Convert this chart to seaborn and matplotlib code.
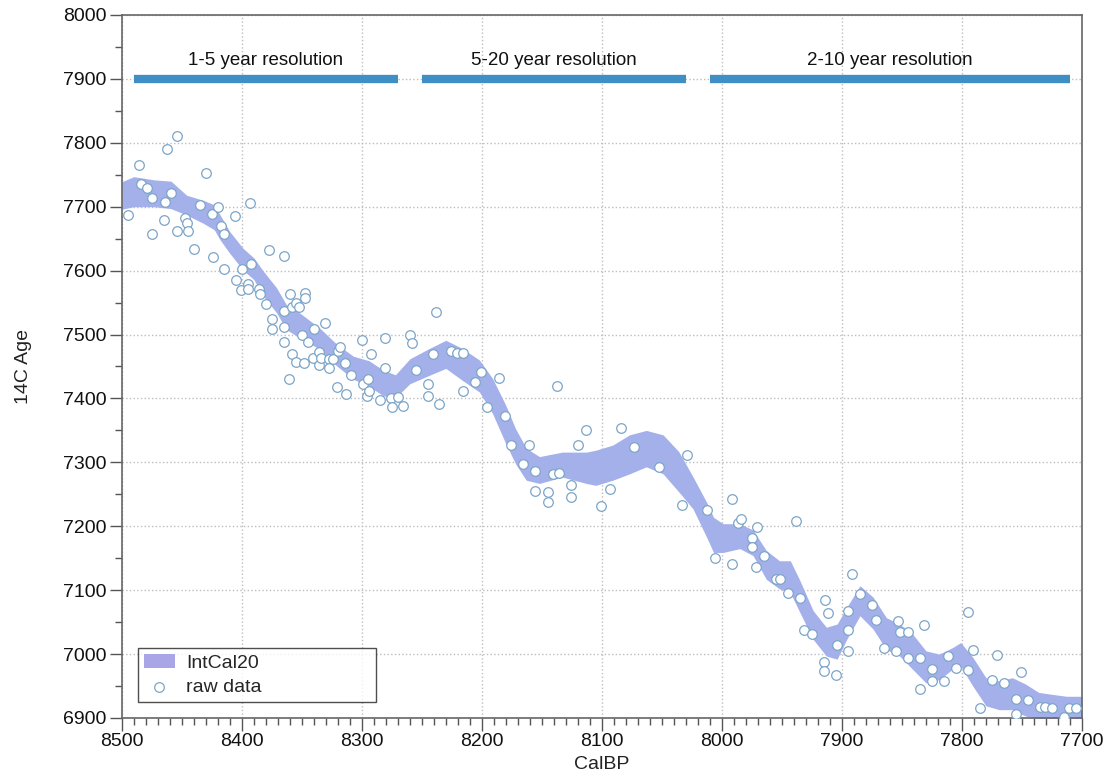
import numpy as np
import pandas as pd
import matplotlib
matplotlib.use("Agg")
import matplotlib.pyplot as plt
from matplotlib.ticker import MultipleLocator
import seaborn as sns

# IntCal20 band: calendar age, lower and upper 14C age
band_calbp = [8500, 8490, 8473, 8459, 8446, 8432, 8423, 8418, 8410, 8399,
              8390, 8382, 8371, 8363, 8352, 8335, 8321, 8307, 8294, 8282,
              8272, 8260, 8244, 8230, 8216, 8202, 8191, 8180, 8172, 8163,
              8152, 8133, 8113, 8105, 8091, 8077, 8063, 8049, 8036, 8024,
              8012, 8007, 7999, 7985, 7974, 7963, 7952, 7943, 7935, 7924,
              7913, 7904, 7896, 7885, 7874, 7863, 7852, 7841, 7830, 7819,
              7808, 7801, 7791, 7780, 7769, 7758, 7747, 7736, 7725, 7713, 7700]
band_lower = [7696, 7700, 7700, 7697, 7687, 7674, 7664, 7648, 7627, 7601,
              7586, 7560, 7534, 7508, 7495, 7477, 7451, 7430, 7419, 7404,
              7401, 7423, 7436, 7447, 7428, 7410, 7376, 7329, 7298, 7272,
              7267, 7277, 7267, 7264, 7272, 7282, 7293, 7282, 7254, 7227,
              7180, 7159, 7159, 7165, 7154, 7117, 7102, 7096, 7065, 7023,
              6997, 6992, 7023, 7060, 7039, 7007, 6997, 6976, 6955, 6960,
              6976, 6981, 6950, 6919, 6913, 6913, 6903, 6898, 6898, 6895, 6895]
band_upper = [7739, 7747, 7742, 7740, 7718, 7710, 7703, 7687, 7661, 7635,
              7620, 7599, 7573, 7547, 7534, 7510, 7485, 7466, 7459, 7444,
              7437, 7462, 7478, 7491, 7478, 7460, 7431, 7389, 7353, 7322,
              7309, 7316, 7316, 7319, 7327, 7343, 7350, 7343, 7317, 7277,
              7235, 7214, 7204, 7204, 7194, 7162, 7146, 7146, 7115, 7068,
              7042, 7047, 7073, 7107, 7089, 7057, 7047, 7031, 7005, 7000,
              7010, 7018, 6995, 6963, 6958, 6963, 6953, 6940, 6937, 6934, 6934]

raw_calbp = [8495, 8486, 8484, 8479, 8475, 8475, 8465, 8464, 8462, 8459,
             8454, 8454, 8447, 8446, 8445, 8440, 8435, 8430, 8425, 8420,
             8417, 8415, 8424, 8415, 8406, 8393, 8405, 8401, 8400, 8395,
             8395, 8392, 8386, 8385, 8380, 8377, 8375, 8375, 8365, 8365,
             8365, 8365, 8361, 8360, 8358, 8355, 8352, 8347, 8347, 8358,
             8355, 8350, 8348, 8345, 8341, 8340, 8336, 8336, 8334, 8331,
             8327, 8327, 8324, 8320, 8318, 8321, 8314, 8313, 8309, 8300,
             8299, 8296, 8295, 8294, 8292, 8285, 8281, 8281, 8276, 8275,
             8270, 8266, 8260, 8258, 8255,
             8238, 8245, 8245, 8241, 8236, 8226, 8221, 8216, 8216, 8206,
             8201, 8196, 8186, 8181, 8176, 8166, 8161, 8156, 8156, 8145,
             8145, 8141, 8136, 8137, 8126, 8126, 8120, 8113, 8101, 8093,
             8084, 8073, 8052, 8033, 8029, 8012,
             8006, 7992, 7992, 7987, 7984, 7971, 7975, 7975, 7972, 7965,
             7955, 7952, 7938, 7945, 7935, 7932, 7925, 7914, 7912, 7915,
             7915, 7904, 7905, 7895, 7895, 7895, 7892, 7885, 7875, 7872,
             7865, 7855, 7853, 7852, 7845, 7845, 7835, 7835, 7832, 7825,
             7825, 7815, 7812, 7805, 7795, 7795, 7791, 7785, 7775, 7771,
             7765, 7755, 7755, 7751, 7745, 7735, 7731, 7725, 7715, 7711, 7705]
raw_age = [7687, 7766, 7736, 7730, 7714, 7658, 7679, 7708, 7790, 7722,
           7810, 7662, 7683, 7674, 7662, 7634, 7702, 7752, 7688, 7700,
           7670, 7657, 7621, 7603, 7686, 7706, 7585, 7569, 7603, 7579,
           7571, 7611, 7571, 7564, 7548, 7632, 7524, 7508, 7623, 7488,
           7537, 7511, 7431, 7563, 7543, 7549, 7543, 7565, 7557, 7470,
           7457, 7499, 7455, 7488, 7464, 7509, 7452, 7473, 7464, 7518,
           7461, 7447, 7461, 7474, 7481, 7418, 7455, 7407, 7436, 7491,
           7423, 7404, 7431, 7411, 7470, 7397, 7494, 7447, 7400, 7387,
           7403, 7388, 7499, 7486, 7444,
           7536, 7422, 7404, 7469, 7391, 7474, 7471, 7471, 7411, 7426,
           7441, 7387, 7432, 7373, 7327, 7297, 7327, 7287, 7255, 7253,
           7238, 7281, 7284, 7420, 7265, 7246, 7327, 7350, 7232, 7258,
           7353, 7324, 7293, 7233, 7311, 7226,
           7151, 7243, 7141, 7205, 7212, 7199, 7181, 7167, 7137, 7154,
           7118, 7118, 7208, 7096, 7087, 7037, 7031, 7085, 7064, 6988,
           6974, 7014, 6967, 7005, 7037, 7068, 7125, 7094, 7077, 7054,
           7010, 7005, 7052, 7035, 7035, 6994, 6994, 6945, 7046, 6977,
           6958, 6958, 6997, 6979, 7066, 6975, 7007, 6915, 6960, 6998,
           6954, 6930, 6906, 6972, 6928, 6917, 6917, 6916, 6901, 6916, 6916]

# resolution segments shown across the top
res_labels = ["1-5 year resolution", "5-20 year resolution", "2-10 year resolution"]
res_start = [8490, 8250, 8010]
res_end = [8270, 8030, 7710]
res_level = 7900

band = pd.DataFrame({"CalBP": band_calbp, "lower": band_lower, "upper": band_upper})
raw = pd.DataFrame({"CalBP": raw_calbp, "Age": raw_age})

sns.set_theme(style="ticks")
plt.rcParams["font.family"] = ["Liberation Sans", "DejaVu Sans"]

fig = plt.figure(figsize=(11.07, 7.8), dpi=100)
ax = fig.add_axes([0.110, 0.0795, 0.8674, 0.9013])

ax.fill_between(band["CalBP"], band["lower"], band["upper"],
                color="#a4b0ea", linewidth=0, label="IntCal20", zorder=2)
sns.scatterplot(data=raw, x="CalBP", y="Age", ax=ax, marker="o", s=48,
                facecolor="white", edgecolor="#7ca5c8", linewidth=0.9,
                label="raw data", zorder=3)

for lab, x0, x1 in zip(res_labels, res_start, res_end):
    ax.hlines(res_level, x0, x1, color="#3d8fc6", linewidth=6, zorder=4)
    ax.text((x0 + x1) / 2, res_level + 16, lab, ha="center", va="bottom",
            fontsize=13.5, color="#111111")

ax.set_xlim(8500, 7700)
ax.set_ylim(6900, 8000)
ax.xaxis.set_major_locator(MultipleLocator(100))
ax.xaxis.set_minor_locator(MultipleLocator(10))
ax.yaxis.set_major_locator(MultipleLocator(100))
ax.yaxis.set_minor_locator(MultipleLocator(50))
ax.tick_params(axis="both", which="major", direction="out", length=9,
               width=1, color="#555555", labelsize=14, labelcolor="#111111",
               pad=2)
ax.tick_params(axis="both", which="minor", direction="out", length=5,
               width=1, color="#555555")
ax.grid(True, which="major", linestyle=":", color="#bdbdbd", linewidth=1)
for sp in ax.spines.values():
    sp.set_visible(True)
    sp.set_color("#666666")
    sp.set_linewidth(1.2)

ax.set_xlabel("CalBP", fontsize=14, color="#222222", labelpad=4)
ax.set_ylabel("14C Age", fontsize=14, color="#222222", labelpad=22)

leg = ax.legend(loc="lower left", bbox_to_anchor=(0.0167, 0.0228, 0.248, 0.07),
                mode="expand", borderaxespad=0, fontsize=14, frameon=True,
                fancybox=False, borderpad=0.3, labelspacing=0.35,
                handlelength=1.6, handletextpad=0.6)
leg.get_frame().set_edgecolor("#222222")
leg.get_frame().set_linewidth(1.0)
leg.legend_handles[0].set_color("#aaa5e6")

fig.savefig("out.png", dpi=100)
